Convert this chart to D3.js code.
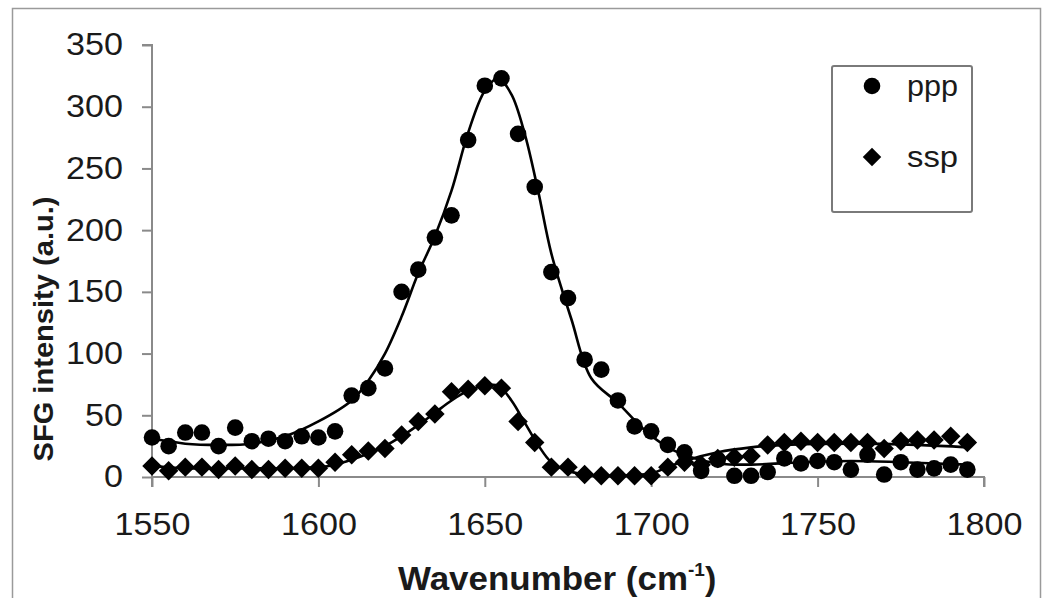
<!DOCTYPE html>
<html>
<head>
<meta charset="utf-8">
<script src="https://cdnjs.cloudflare.com/ajax/libs/d3/7.8.5/d3.min.js"></script>
<style>
  body { margin: 0; background: #fff; }
  svg { display: block; font-family: "Liberation Sans", Arial, sans-serif; }
</style>
</head>
<body>
<svg id="chart" width="1050" height="612"></svg>
<script>
// measured points (cm-1 / a.u.)
const wavenumbers = [1550,1555,1560,1565,1570,1575,1580,1585,1590,1595,
  1600,1605,1610,1615,1620,1625,1630,1635,1640,1645,
  1650,1655,1660,1665,1670,1675,1680,1685,1690,1695,
  1700,1705,1710,1715,1720,1725,1730,1735,1740,1745,
  1750,1755,1760,1765,1770,1775,1780,1785,1790,1795]
const ppp = [32,25,36,36,25,40,29,31,29,33,
  32,37,66,72,88,150,168,194,212,273,
  317,323,278,235,166,145,95,87,62,41,
  37,26,20,5,14,1,1,4,15,11,
  13,12,6,18,2,12,6,7,10,6]
const ssp = [9,5,8,8,6,9,6,6,7,7,
  7,12,18,21,23,34,45,51,69,71,
  74,72,45,28,8,8,2,1,1,1,
  1,8,12,10,15,16,17,26,28,29,
  28,28,28,28,23,29,30,30,33,28]

// fitted curves
const pppFitX = [1550,1555,1560,1570,1580,1590,1600,1610,1615,1620,1625,1630,1635,1640,1645,1650,1654,1658,1662,1666,1670,1676,1682,1690,1698,1705,1712,1720,1730,1745,1760,1775,1795]
const pppFitY = [31,29,27,26,27,33,45,62,78,100,130,165,195,232,279,313,323,310,278,232,181,128,80,60,38,24,16,11,10,12,13,12,10]
const sspFitX = [1550,1560,1570,1580,1590,1600,1605,1610,1615,1620,1625,1630,1635,1640,1645,1650,1654,1658,1662,1666,1670,1675,1680,1690,1700,1705,1710,1720,1730,1740,1760,1780,1795]
const sspFitY = [9,7,7,7,7,8,10,14,19,25,33,42,52,62,70,74,74,62,44,26,12,5,2,1,3,8,13,20,24,26,27,26,24]

const xTicks = [1550,1600,1650,1700,1750,1800]
const yTicks = [0,50,100,150,200,250,300,350]
const seriesNames = ['ppp','ssp']

const svg = d3.select('#chart')
const axisColor = '#8a8a8a'
const textColor = '#1a1a1a'

// outer frame
svg.append('path')
  .attr('d', 'M12.5,598 L12.5,8.5 L1040.5,8.5 L1040.5,598')
  .attr('fill', 'none').attr('stroke', '#9a9a9a').attr('stroke-width', 1.5)

const x = d3.scaleLinear().domain([1550, 1800]).range([152, 984])
const y = d3.scaleLinear().domain([0, 350]).range([477, 45])

// fix label widths to what the original shows
const stretch = (sel, perChar) => sel
  .attr('textLength', function(){ return this.textContent.length * perChar })
  .attr('lengthAdjust', 'spacingAndGlyphs')

const gx = svg.append('g').attr('transform', `translate(0,${y(0)})`)
  .call(d3.axisBottom(x).tickValues(xTicks).tickSize(10).tickPadding(26).tickFormat(d3.format('d')))
const gy = svg.append('g').attr('transform', `translate(${x(1550)},0)`)
  .call(d3.axisLeft(y).tickValues(yTicks).tickSize(10).tickPadding(19))

;[gx, gy].forEach(g=>{
  g.select('.domain').attr('stroke', axisColor).attr('stroke-width', 2)
  g.selectAll('.tick line').attr('stroke', axisColor).attr('stroke-width', 2)
  g.selectAll('.tick text').attr('fill', textColor).attr('font-size', 31)
    .call(stretch, 19)
})
gx.select('.domain').attr('d', `M${x(1550)},10V0H${x(1800)}V10`)
gy.select('.domain').attr('d', `M-10,${y(350)}H0V${y(0)}`)

// axis titles
const xt = svg.append('text')
  .attr('x', 398).attr('y', 590)
  .attr('font-size', 34).attr('font-weight', 'bold').attr('fill', textColor)
xt.append('tspan').text('Wavenumber (cm').attr('textLength', 290).attr('lengthAdjust', 'spacingAndGlyphs')
xt.append('tspan').text('-1').attr('font-size', 19).attr('dy', -14)
xt.append('tspan').text(')').attr('dy', 14)

svg.append('text')
  .attr('transform', 'translate(53,329) rotate(-90)')
  .attr('text-anchor', 'middle')
  .attr('font-size', 27).attr('font-weight', 'bold').attr('fill', textColor)
  .attr('textLength', 265).attr('lengthAdjust', 'spacingAndGlyphs')
  .text('SFG intensity (a.u.)')

// fitted lines
const line = d3.line().x(d=>x(d[0])).y(d=>y(d[1])).curve(d3.curveCatmullRom)
const fits = [d3.zip(pppFitX, pppFitY), d3.zip(sspFitX, sspFitY)]
svg.append('g').selectAll('path').data(fits).join('path')
  .attr('d', line)
  .attr('fill', 'none').attr('stroke', '#000').attr('stroke-width', 2.6)

// markers
const diamond = d3.symbol().type(d3.symbolSquare).size(190)
svg.append('g').selectAll('circle').data(d3.zip(wavenumbers, ppp)).join('circle')
  .attr('cx', d=>x(d[0])).attr('cy', d=>y(d[1])).attr('r', 8.3).attr('fill', '#000')
svg.append('g').selectAll('path').data(d3.zip(wavenumbers, ssp)).join('path')
  .attr('d', diamond)
  .attr('transform', d=>`translate(${x(d[0])},${y(d[1])}) rotate(45)`)
  .attr('fill', '#000')

// legend
const legend = svg.append('g')
legend.append('rect')
  .attr('x', 832).attr('y', 66).attr('width', 140).attr('height', 146).attr('rx', 2)
  .attr('fill', '#fff').attr('stroke', '#7a7a7a').attr('stroke-width', 2)
const items = legend.selectAll('g.item').data(seriesNames).join('g')
  .attr('class', 'item')
  .attr('transform', (d, i)=>`translate(872,${86 + i * 71})`)
items.each(function(d, i){
  const g = d3.select(this)
  if (i === 0) g.append('circle').attr('r', 8.3).attr('fill', '#000')
  else g.append('path').attr('d', d3.symbol().type(d3.symbolSquare).size(170)).attr('transform', 'rotate(45)').attr('fill', '#000')
})
items.append('text')
  .attr('x', 35).attr('y', 10)
  .attr('font-size', 30).attr('fill', textColor)
  .text(d=>d)
  .call(stretch, 17)
</script>
</body>
</html>
